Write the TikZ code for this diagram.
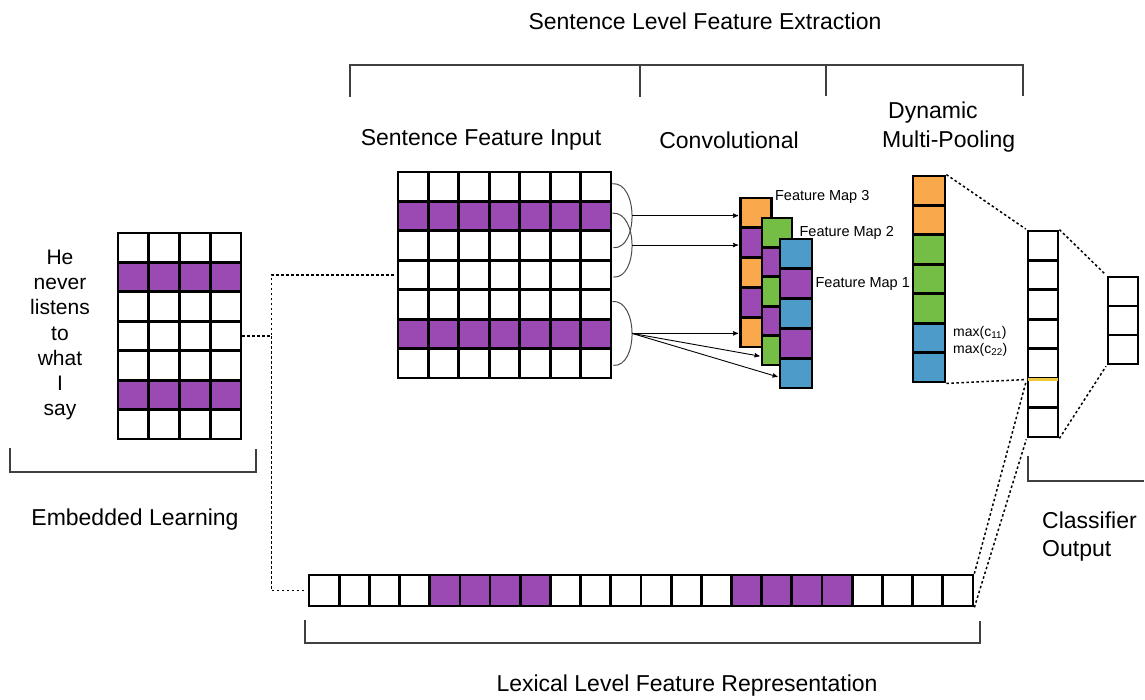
\documentclass[tikz,border=0pt]{standalone}
\usepackage{fontspec}
\setmainfont{Liberation Sans}
\usetikzlibrary{arrows,positioning}

\definecolor{cpurple}{RGB}{155,74,180}
\definecolor{corange}{RGB}{250,168,76}
\definecolor{cgreen}{RGB}{116,190,70}
\definecolor{cblue}{RGB}{76,155,200}
\definecolor{cyellow}{RGB}{240,200,60}

\begin{document}
\begin{tikzpicture}[x=1pt,y=-1pt,>=stealth',shorten >=1pt,
    cell/.style={draw,line width=2.8pt,inner sep=0pt,fill=white},
    link/.style={line width=1.5pt,dash pattern=on 2.5pt off 2.5pt},
    bracket/.style={draw=black!75,line width=1.2pt},
    arc/.style={draw=black!70,line width=1pt},
    feed/.style={->,line width=.9pt},
    lbl/.style={font=\fontsize{23}{28}\selectfont,inner sep=0pt},
    small/.style={font=\fontsize{14.5}{17}\selectfont,inner sep=0pt}]

    \useasboundingbox (0,0) rectangle (1145,700);

    % embedding of the sentence
    \foreach \r/\col in {1/white,2/cpurple,3/white,4/white,5/white,6/cpurple,7/white}
        \foreach \c in {1,...,4}
            \node[cell,fill=\col,minimum width=30.75pt,minimum height=29.43pt]
                (emb-\r-\c) at ({118+30.75*(\c-.5)},{233+29.43*(\r-.5)}) {};

    % sentence feature input
    \foreach \r/\col in {1/white,2/cpurple,3/white,4/white,5/white,6/cpurple,7/white}
        \foreach \c in {1,...,7}
            \node[cell,fill=\col,minimum width=30.43pt,minimum height=29.43pt]
                (sfi-\r-\c) at ({398+30.43*(\c-.5)},{172+29.43*(\r-.5)}) {};

    % feature maps
    \foreach \i/\col in {1/corange,2/cpurple,3/corange,4/cpurple,5/corange}
        \node[cell,fill=\col,minimum width=31pt,minimum height=29.8pt]
            (fm3-\i) at (756,{198+29.8*(\i-.5)}) {};
    \foreach \i/\col in {1/cgreen,2/cpurple,3/cgreen,4/cpurple,5/cgreen}
        \node[cell,fill=\col,minimum width=30pt,minimum height=29.4pt]
            (fm2-\i) at (777,{218+29.4*(\i-.5)}) {};
    \foreach \i/\col in {1/cblue,2/cpurple,3/cblue,4/cpurple,5/cblue}
        \node[cell,fill=\col,minimum width=32pt,minimum height=29.8pt]
            (fm1-\i) at (796,{239+29.8*(\i-.5)}) {};

    % pooling, hidden and classifier columns
    \foreach \i/\col in {1/corange,2/corange,3/cgreen,4/cgreen,5/cgreen,6/cblue,7/cblue}
        \node[cell,fill=\col,minimum width=32pt,minimum height=29.43pt]
            (pool-\i) at (929,{176+29.43*(\i-.5)}) {};
    \foreach \i in {1,...,7}
        \node[cell,minimum width=30pt,minimum height=29.43pt]
            (out-\i) at (1043,{231+29.43*(\i-.5)}) {};
    \foreach \i in {1,...,3}
        \node[cell,minimum width=30pt,minimum height=29pt]
            (cls-\i) at (1123,{277+29*(\i-.5)}) {};

    % lexical level features
    \foreach \i in {1,...,22}{
        \def\col{white}
        \ifnum\i>4 \ifnum\i<9 \def\col{cpurple}\fi\fi
        \ifnum\i>14 \ifnum\i<19 \def\col{cpurple}\fi\fi
        \node[cell,fill=\col,minimum width=30.18pt,minimum height=31pt]
            (lex-\i) at ({309+30.18*(\i-.5)},590.5) {};
    }

    % windows and convolution
    \draw[arc] ([yshift=3pt]sfi-1-7.east) .. controls +(26,-2) and +(26,2) .. ([yshift=-2pt]sfi-3-7.east) coordinate[pos=.5] (k1);
    \draw[arc] ([yshift=3pt]sfi-2-7.east) .. controls +(26,-2) and +(26,2) .. ([yshift=-2pt]sfi-4-7.east) coordinate[pos=.5] (k2);
    \draw[arc] ([yshift=3pt]sfi-5-7.east) .. controls +(26,-2) and +(26,2) .. ([yshift=-2pt]sfi-7-7.east) coordinate[pos=.5] (k3);

    \draw[feed] (k1) -- (k1 -| fm3-1.west);
    \draw[feed] (k2) -- (k2 -| fm3-1.west);
    \draw[feed] (k3) -- (k3 -| fm3-1.west);
    \draw[feed] (k3) -- ([yshift=-6pt]fm2-5.west);
    \draw[feed] (k3) -- ([yshift=-4pt]fm1-5.west);

    % dotted links
    \draw[link] (emb-4-4.east) -- ++(29,0) coordinate (jn) |- (sfi-4-1.west);
    \draw[link] (jn) |- (lex-1.west);
    \draw[link] (pool-1.north east) -- (out-1.north west);
    \draw[link] (pool-7.south east) -- (out-5.south west);
    \draw[link] (out-1.north east) -- (cls-1.north west);
    \draw[link] (out-7.south east) -- (cls-3.south west);
    \draw[link] (lex-22.north east) -- (out-5.south west);
    \draw[link] (lex-22.south east) -- (out-7.south west);
    \draw[cyellow,line width=3.5pt,shorten <=1.5pt,shorten >=1.5pt] (out-5.south west) -- (out-5.south east);

    % brackets
    \draw[bracket] (350,97) -- (350,65) -- (1023,65) -- (1023,97);
    \draw[bracket] (640,65) -- (640,97) (826,65) -- (826,97);
    \draw[bracket] (10,448) -- (10,472) -- (256,472) -- (256,448);
    \draw[bracket] (305,620) -- (305,643) -- (980,643) -- (980,620);
    \draw[bracket] (1028,456) -- (1028,481) -- (1145,481);

    % labels
    \node[lbl] (title) at (705,21) {Sentence Level Feature Extraction};
    \node[lbl] (sfi-lbl) at (481,140) {Sentence Feature Input};
    \node[lbl] (conv-lbl) at (729,140) {Convolutional};
    \node[lbl,align=left,anchor=west,font=\fontsize{23}{29}\selectfont] (pool-lbl) at (882,127) {\hspace*{6pt}Dynamic\\Multi-Pooling};
    \node[font=\fontsize{21}{25.3}\selectfont,align=center,inner sep=0pt] (words) at (60,335) {He\\never\\listens\\to\\what\\I\\say};
    \node[lbl] (emb-lbl) at (135,520) {Embedded Learning};
    \node[lbl,align=left,anchor=west] (cls-lbl) at (1042,537) {Classifier\\Output};
    \node[lbl] (lex-lbl) at (687,686) {Lexical Level Feature Representation};

    \node[small,anchor=west,xshift=2pt] (fm3-lbl) at (fm3-1.north east) {Feature Map 3};
    \node[small,anchor=west,xshift=6pt] (fm2-lbl) at (fm2-1.east) {Feature Map 2};
    \node[small,anchor=west,xshift=2pt] (fm1-lbl) at (fm1-2.east) {Feature Map 1};
    \node[small,align=left,anchor=west,font=\fontsize{14}{17}\selectfont] (max-lbl) at (953,341) {max(c\textsubscript{11})\\max(c\textsubscript{22})};
\end{tikzpicture}
\end{document}
